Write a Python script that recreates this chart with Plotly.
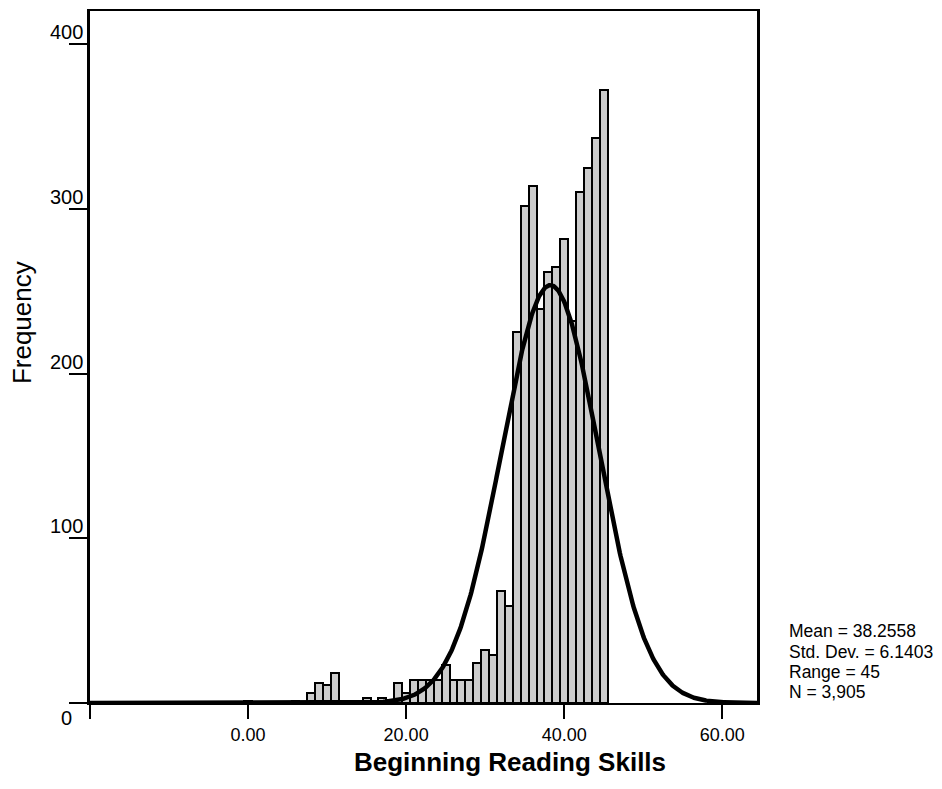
import numpy as np
import plotly.graph_objects as go

# ---- data ----
bin_centers = list(range(0, 46))
counts = [1, 0, 0, 0, 0, 0, 1, 0, 6, 12,
          11, 18, 0, 0, 1, 3, 0, 3, 2, 12,
          6, 14, 14, 14, 14, 23, 14, 14, 14, 24,
          32, 29, 68, 59, 225, 302, 314, 239, 262, 265,
          282, 232, 310, 325, 343, 372]

MEAN = 38.2558
SD = 6.1403
RANGE = 45
N = 3905
BIN_WIDTH = 1.0

x_tickvals = [-20, 0, 20, 40, 60]
x_ticktext = ["", "0.00", "20.00", "40.00", "60.00"]
y_tickvals = [0, 100, 200, 300, 400]
y_ticktext = ["0", "100", "200", "300", "400"]
stats_lines = [f"Mean = {MEAN}", f"Std. Dev. = {SD}", f"Range = {RANGE}", "N = 3,905"]
x_title = "Beginning Reading Skills"
y_title = "Frequency"

X_RANGE = [-20, 64.4]
Y_RANGE = [0, 420.2]

FONT = "Arial, Liberation Sans, sans-serif"

# page body has an 8px margin; figure sized to fit the window
OFF = 8
W, H = 942 - OFF, 789 - OFF
ML, MT, MR, MB = 82, 1, 185, 86
PW = W - ML - MR
PH = H - MT - MB


def px_to_paper(px, py):
    """page pixel -> paper coordinates"""
    fx = px - OFF
    fy = py - OFF
    return (fx - ML) / PW, (H - MB - fy) / PH


# normal curve from the reported mean / sd / N
xc = np.linspace(X_RANGE[0], X_RANGE[1], 900)
yc = N * BIN_WIDTH * np.exp(-0.5 * ((xc - MEAN) / SD) ** 2) / (SD * np.sqrt(2 * np.pi))

fig = go.Figure()
fig.add_trace(go.Bar(
    x=bin_centers, y=counts, width=BIN_WIDTH,
    marker=dict(color="#cccccc", line=dict(color="black", width=2)),
    showlegend=False, hoverinfo="x+y",
))
fig.add_trace(go.Scatter(
    x=xc, y=yc, mode="lines",
    line=dict(color="black", width=4.5),
    showlegend=False, hoverinfo="skip",
))

fig.update_layout(
    width=W, height=H,
    margin=dict(l=ML, r=MR, t=MT, b=MB, pad=0),
    paper_bgcolor="white", plot_bgcolor="white",
    bargap=0,
    font=dict(family=FONT, color="black"),
    xaxis=dict(
        range=X_RANGE, showgrid=False, zeroline=False,
        showline=True, linecolor="black", linewidth=2, mirror=True,
        ticks="outside", ticklen=14, tickwidth=2, tickcolor="black",
        tickvals=x_tickvals, ticktext=x_ticktext,
        tickfont=dict(size=18, family=FONT, color="black"),
    ),
    yaxis=dict(
        range=Y_RANGE, showgrid=False, zeroline=False,
        showline=True, linecolor="black", linewidth=2.5, mirror=True,
        ticks="outside", ticklen=18, tickwidth=2, tickcolor="black",
        tickvals=y_tickvals, showticklabels=False,
    ),
)

annotations = []
for v, t in zip(y_tickvals, y_ticktext):
    if v == 0:
        annotations.append(dict(x=0, xref="paper", y=v, yref="y", text=t,
                                showarrow=False, xanchor="right", yanchor="middle",
                                xshift=-16, yshift=-15,
                                font=dict(size=20, family=FONT, color="black")))
    else:
        annotations.append(dict(x=0, xref="paper", y=v, yref="y", text=t,
                                showarrow=False, xanchor="right", yanchor="middle",
                                xshift=-5, yshift=12,
                                font=dict(size=20, family=FONT, color="black")))

fx, fy = px_to_paper(22, 322)
annotations.append(dict(x=fx, xref="paper", y=fy, yref="paper", text=y_title,
                        showarrow=False, textangle=-90, xanchor="center", yanchor="middle",
                        font=dict(size=26, family=FONT, color="black")))

tx, ty = px_to_paper(510, 762)
annotations.append(dict(x=tx, xref="paper", y=ty, yref="paper", text=f"<b>{x_title}</b>",
                        showarrow=False, xanchor="center", yanchor="middle",
                        font=dict(size=26, family=FONT, color="black")))

stat_y_px = [631, 652, 672, 692]
for py, t in zip(stat_y_px, stats_lines):
    sx, sy = px_to_paper(787, py)
    annotations.append(dict(x=sx, xref="paper", y=sy, yref="paper",
                            text=t, showarrow=False, xanchor="left", yanchor="middle",
                            font=dict(size=17.5, family=FONT, color="black")))

fig.update_layout(annotations=annotations)

fig.write_html("out.html")
